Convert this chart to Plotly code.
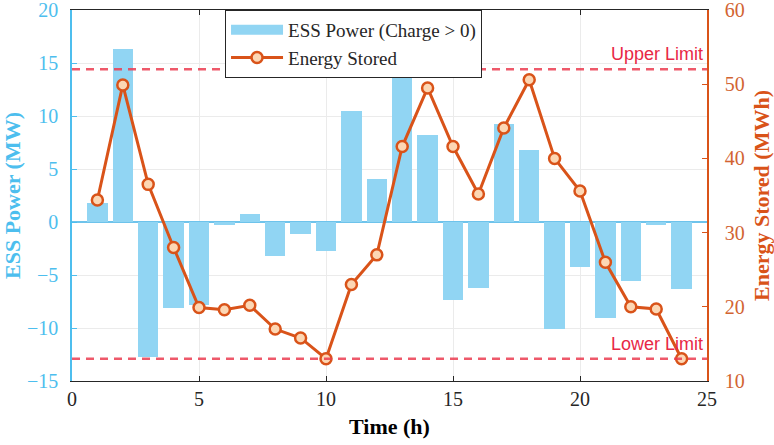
import plotly.graph_objects as go

hours = list(range(1, 25))
ess_power = [1.8, 16.3, -12.7, -8.1, -7.8, -0.3, 0.8, -3.2, -1.1, -2.7,
             10.5, 4.1, 15.3, 8.2, -7.4, -6.2, 9.2, 6.8, -10.1, -4.2,
             -9.1, -5.6, -0.3, -6.3]
energy_stored = [34.4, 49.9, 36.5, 28.0, 19.9, 19.6, 20.2, 17.0, 15.8, 13.0,
                 23.0, 27.0, 41.6, 49.5, 41.6, 35.2, 44.1, 50.6, 40.0, 35.6,
                 26.0, 20.0, 19.7, 13.0]
upper_limit = 52
lower_limit = 13
x_ticks = [0, 5, 10, 15, 20, 25]
y_ticks = [-15, -10, -5, 0, 5, 10, 15, 20]
y2_ticks = [10, 20, 30, 40, 50, 60]

BLUE = "rgb(77,190,238)"
BAR = "rgb(145,213,243)"
ORANGE = "rgb(217,83,25)"
DARK = "rgb(38,38,38)"
RED = "rgb(232,40,70)"
SERIF = "Liberation Serif, Times New Roman, serif"
SANS = "Liberation Sans, Arial, sans-serif"

fig = go.Figure()
fig.add_trace(go.Bar(x=hours, y=ess_power, width=0.8, name="ESS Power (Charge > 0)",
                     marker=dict(color=BAR, line=dict(width=0)), yaxis="y", showlegend=False))
# legend entry for the bars drawn as a wide swatch
fig.add_trace(go.Scatter(x=[None], y=[None], mode="lines", name="ESS Power (Charge > 0)",
                         line=dict(color=BAR, width=18), yaxis="y", hoverinfo="skip"))
fig.add_trace(go.Scatter(x=hours, y=energy_stored, mode="lines+markers", name="Energy Stored",
                         line=dict(color=ORANGE, width=3),
                         marker=dict(symbol="circle", size=11, color="rgb(252,215,180)",
                                     line=dict(color=ORANGE, width=2.5)),
                         yaxis="y2"))

for val, label in [(upper_limit, "Upper Limit"), (lower_limit, "Lower Limit")]:
    fig.add_shape(type="line", xref="paper", x0=0, x1=1, yref="y2", y0=val, y1=val,
                  line=dict(color="rgba(235,60,80,0.85)", width=2.5, dash="8px,6px"), layer="above")
    fig.add_annotation(xref="paper", x=1, xshift=-2, yref="y2", y=val, yshift=3,
                       text=label, showarrow=False, xanchor="right", yanchor="bottom",
                       font=dict(family=SANS, size=18, color=RED))

fig.update_layout(
    width=774, height=445,
    margin=dict(l=72, r=67, t=10, b=64),
    paper_bgcolor="white", plot_bgcolor="white",
    bargap=0,
    showlegend=True,
    legend=dict(x=0.241, y=1, xanchor="left", yanchor="top",
                bgcolor="white", bordercolor=DARK, borderwidth=1,
                font=dict(family=SERIF, size=19, color=DARK),
                itemwidth=52, tracegroupgap=0, traceorder="normal"),
    xaxis=dict(range=[0, 25], tickvals=x_ticks, showgrid=True, gridcolor="rgb(235,235,235)",
               showline=True, linecolor=DARK, linewidth=1, mirror="ticks",
               ticks="inside", ticklen=5, tickcolor=DARK, zeroline=False, automargin=False,
               tickfont=dict(family=SERIF, size=20, color=DARK),
               title=dict(text="<b>Time (h)</b>", font=dict(family=SERIF, size=22, color="black"),
                          standoff=9)),
    yaxis=dict(range=[-15, 20], tickvals=y_ticks, showgrid=True, gridcolor="rgb(235,235,235)",
               showline=True, linecolor=BLUE, linewidth=1.5, ticks="inside", ticklen=5,
               tickcolor=BLUE, zeroline=True, zerolinecolor="rgb(110,195,235)", zerolinewidth=1.5,
               tickfont=dict(family=SERIF, size=20, color=BLUE), ticklabelstandoff=8,
               ticklabeloverflow="allow", automargin=False,
               title=dict(text="<b>ESS Power (MW)</b>", font=dict(family=SERIF, size=22, color=BLUE),
                          standoff=2)),
    yaxis2=dict(range=[10, 60], tickvals=y2_ticks, overlaying="y", side="right", anchor="x",
                showgrid=False, showline=True, linecolor=ORANGE, linewidth=1.5,
                ticks="inside", ticklen=5, tickcolor=ORANGE, zeroline=False,
                tickfont=dict(family=SERIF, size=20, color="rgb(210,100,50)"), ticklabelstandoff=12,
                ticklabeloverflow="allow", automargin=False,
                title=dict(text="<b>Energy Stored (MWh)</b>", font=dict(family=SERIF, size=22, color=ORANGE),
                           standoff=10)),
)

fig.write_html("out.html")
